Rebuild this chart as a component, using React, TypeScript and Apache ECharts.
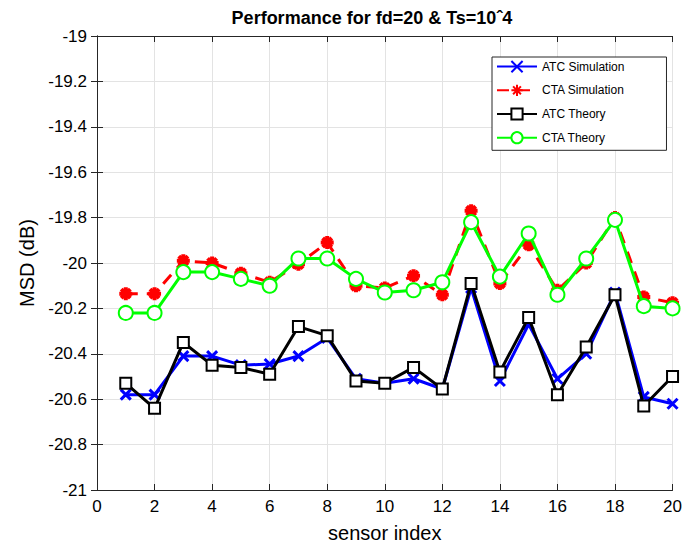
import React, { useEffect, useRef } from "react";
import * as echarts from "echarts";

const sensors = [1, 2, 3, 4, 5, 6, 7, 8, 9, 10, 11, 12, 13, 14, 15, 16, 17, 18, 19, 20];
const atcSim = [-20.58, -20.58, -20.41, -20.41, -20.45, -20.445, -20.41, -20.33, -20.51, -20.53, -20.51, -20.555, -20.11, -20.52, -20.27, -20.51, -20.4, -20.13, -20.59, -20.62];
const ctaSim = [-20.135, -20.135, -19.99, -20.0, -20.045, -20.085, -20.005, -19.91, -20.1, -20.11, -20.056, -20.14, -19.77, -20.09, -19.92, -20.12, -20.0, -19.8, -20.15, -20.175];
const atcTheory = [-20.53, -20.64, -20.35, -20.45, -20.46, -20.49, -20.28, -20.32, -20.52, -20.53, -20.46, -20.555, -20.09, -20.48, -20.24, -20.58, -20.37, -20.14, -20.63, -20.5];
const ctaTheory = [-20.22, -20.22, -20.04, -20.04, -20.07, -20.1, -19.98, -19.98, -20.07, -20.13, -20.12, -20.085, -19.82, -20.06, -19.87, -20.14, -19.98, -19.81, -20.19, -20.2];
const seriesNames = ["ATC Simulation", "CTA Simulation", "ATC Theory", "CTA Theory"];

const FONT = "Liberation Sans, Arial, sans-serif";
const xSymbol = "path://M0,0 L10,10 M10,0 L0,10";
const starSymbol = "path://M5,0 L5,10 M0,5 L10,5 M1.5,1.5 L8.5,8.5 M8.5,1.5 L1.5,8.5";

const pair = (ys: number[]) => sensors.map((x, i) => [x, ys[i]]);

export default function App() {
  const ref = useRef<HTMLDivElement>(null);
  useEffect(() => {
    const chart = echarts.init(ref.current!, null, { renderer: "svg" });
    const axisCommon = {
      type: "value" as const,
      axisLine: { show: true, lineStyle: { color: "#262626", width: 1 } },
      axisTick: { show: true, inside: true, length: 6, lineStyle: { color: "#262626" } },
    };
    chart.setOption({
      animation: false,
      backgroundColor: "#fff",
      title: {
        text: "Performance for fd=20 & Ts=10ˆ4",
        left: 367,
        textAlign: "center",
        top: 4,
        textStyle: { fontFamily: FONT, fontSize: 18, fontWeight: "bold", color: "#000" },
      },
      grid: { left: 97, right: 8, top: 36, bottom: 51, show: false },
      legend: {
        left: 492,
        top: 57,
        orient: "vertical",
        backgroundColor: "#fff",
        borderColor: "#262626",
        borderWidth: 1,
        borderRadius: 0,
        padding: [3, 42, 6, 4],
        itemGap: 10.5,
        itemWidth: 40,
        itemHeight: 14,
        data: seriesNames,
        textStyle: { fontFamily: FONT, fontSize: 12, color: "#000" },
      },
      xAxis: [
        {
          ...axisCommon,
          position: "bottom",
          min: 0,
          max: 20,
          interval: 2,
          name: "sensor index",
          nameLocation: "middle",
          nameGap: 33,
          nameTextStyle: { fontFamily: FONT, fontSize: 20, color: "#000" },
          axisLabel: { fontFamily: FONT, fontSize: 17, color: "#000", margin: 8 },
          splitLine: { show: true, lineStyle: { color: "#e3e3e3", width: 1 } },
        },
        {
          ...axisCommon,
          position: "top",
          min: 0,
          max: 20,
          interval: 2,
          axisLabel: { show: false },
          splitLine: { show: false },
        },
      ],
      yAxis: [
        {
          ...axisCommon,
          position: "left",
          min: -21,
          max: -19,
          interval: 0.2,
          name: "MSD (dB)",
          nameLocation: "middle",
          nameGap: 59,
          nameTextStyle: { fontFamily: FONT, fontSize: 20, color: "#000" },
          axisLabel: { fontFamily: FONT, fontSize: 17, color: "#000", margin: 10 },
          splitLine: { show: true, lineStyle: { color: "#e3e3e3", width: 1 } },
        },
        {
          ...axisCommon,
          position: "right",
          min: -21,
          max: -19,
          interval: 0.2,
          axisLabel: { show: false },
          splitLine: { show: false },
        },
      ],
      series: [
        {
          name: seriesNames[0],
          type: "line",
          data: pair(atcSim),
          lineStyle: { color: "#0000ff", width: 3 },
          symbol: xSymbol,
          symbolSize: 10,
          itemStyle: { color: "#0000ff", borderColor: "#0000ff", borderWidth: 3 },
          z: 2,
        },
        {
          name: seriesNames[1],
          type: "line",
          data: pair(ctaSim),
          lineStyle: { color: "#ff0000", width: 3, type: [12, 9] },
          symbol: starSymbol,
          symbolSize: 13,
          itemStyle: { color: "#ff0000", borderColor: "#ff0000", borderWidth: 4 },
          z: 2,
        },
        {
          name: seriesNames[2],
          type: "line",
          data: pair(atcTheory),
          lineStyle: { color: "#000000", width: 3 },
          symbol: "emptyRect",
          symbolSize: 11,
          itemStyle: { color: "#000000", borderColor: "#000000", borderWidth: 3 },
          z: 3,
        },
        {
          name: seriesNames[3],
          type: "line",
          data: pair(ctaTheory),
          lineStyle: { color: "#00ff00", width: 3 },
          symbol: "emptyCircle",
          symbolSize: 14,
          itemStyle: { color: "#00ff00", borderColor: "#00ff00", borderWidth: 3 },
          z: 3,
        },
      ],
    });
    return () => chart.dispose();
  }, []);
  return <div ref={ref} style={{ width: 685, height: 548, position: "absolute", left: 0, top: 0 }} />;
}
